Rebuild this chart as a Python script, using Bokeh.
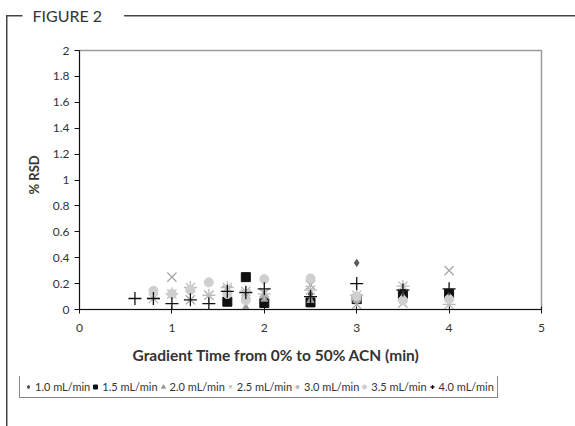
from bokeh.plotting import figure
from bokeh.models import Legend, LegendItem, FixedTicker, Range1d, Title, Label
from bokeh.embed import file_html
from bokeh.resources import INLINE

# %RSD versus gradient time, one series per flow rate
flow_labels = ["1.0 mL/min", "1.5 mL/min", "2.0 mL/min", "2.5 mL/min",
               "3.0 mL/min", "3.5 mL/min", "4.0 mL/min"]

grad_10 = [1.6, 1.8, 2.0, 2.5, 3.0, 3.5, 4.0]
rsd_10 = [0.10, 0.10, 0.09, 0.12, 0.36, 0.12, 0.13]

grad_15 = [1.6, 1.8, 2.0, 2.5, 3.0, 3.5, 4.0]
rsd_15 = [0.06, 0.25, 0.05, 0.055, 0.08, 0.12, 0.12]

grad_20 = [1.8, 2.0, 2.5, 3.0, 3.5, 4.0]
rsd_20 = [0.015, 0.08, 0.07, 0.07, 0.10, 0.10]

grad_25 = [1.0, 1.2, 1.4, 1.6, 1.8, 2.0, 2.5, 3.0, 3.5, 4.0]
rsd_25 = [0.25, 0.075, 0.11, 0.15, 0.12, 0.13, 0.19, 0.04, 0.05, 0.30]

grad_30 = [0.8, 1.0, 1.2, 1.4, 1.6, 1.8, 2.0, 2.5, 3.0, 3.5, 4.0]
rsd_30 = [0.085, 0.12, 0.17, 0.11, 0.17, 0.14, 0.12, 0.15, 0.11, 0.18, 0.04]

grad_35 = [0.8, 1.0, 1.2, 1.4, 1.6, 1.8, 2.0, 2.5, 3.0, 3.5, 4.0]
rsd_35 = [0.145, 0.12, 0.15, 0.21, 0.12, 0.07, 0.235, 0.24, 0.10, 0.07, 0.08]

grad_40 = [0.6, 0.8, 1.0, 1.2, 1.4, 1.6, 1.8, 2.0, 2.5, 3.0, 3.5, 4.0]
rsd_40 = [0.085, 0.085, 0.045, 0.075, 0.045, 0.14, 0.13, 0.16, 0.10, 0.20, 0.15, 0.16]

x_ticks = [0, 1, 2, 3, 4, 5]
y_ticks = [0, 0.2, 0.4, 0.6, 0.8, 1, 1.2, 1.4, 1.6, 1.8, 2]
y_tick_labels = ["0", "0.2", "0.4", "0.6", "0.8", "1", "1.2", "1.4", "1.6", "1.8", "2"]

W = 575
H_HEAD, H_MAIN, H_KEY = 30, 346, 50
FL, FT, FR, FB = 79, 20, 541, 279   # chart frame edges within its own canvas
FONT = "Lato"
INK = "#333333"
RULE = "#444444"
RULE_GRAD = f"linear-gradient({RULE},{RULE})"
LEFT_RULE = {
    "background-color": "white",
    "background-image": RULE_GRAD,
    "background-size": "1.5px 1000px",
    "background-position": "6px 0px",
    "background-repeat": "no-repeat",
}


def strip(height):
    """A blank canvas with no axes, used for the header and the legend row."""
    s = figure(width=W, height=height, output_backend="svg", toolbar_location=None,
               x_axis_type=None, y_axis_type=None, x_range=Range1d(10, 11),
               y_range=Range1d(10, 11), min_border=0)
    s.title.visible = False
    s.background_fill_alpha = 0
    s.border_fill_alpha = 0
    s.outline_line_color = None
    s.xgrid.visible = False
    s.ygrid.visible = False
    return s


# header: "FIGURE 2" set into a rule that runs along the top and down the left
head = strip(H_HEAD)
head.styles = {
    "background-color": "white",
    "background-image": f"{RULE_GRAD}, {RULE_GRAD}",
    "background-size": "1.5px 100px, 580px 1.5px",
    "background-position": "6px 15px, 6px 15px",
    "background-repeat": "no-repeat",
}
head.add_layout(Label(x=22, y=H_HEAD - 15, x_units="screen", y_units="screen",
                      text="FIGURE 2", text_align="left", text_baseline="middle",
                      text_font=FONT, text_font_size="16px", text_color=INK,
                      background_fill_color="white",
                      padding=dict(left=10, right=22, top=2, bottom=2)))

p = figure(width=W, height=H_MAIN, output_backend="svg", toolbar_location=None,
           x_range=Range1d(0, 5), y_range=Range1d(0, 2),
           min_border_left=FL, min_border_top=FT,
           min_border_right=W - FR, min_border_bottom=H_MAIN - FB)
p.title.visible = False
p.background_fill_color = "white"
p.border_fill_alpha = 0
p.outline_line_color = "#9a9a9a"
p.outline_line_width = 1.5
p.xgrid.visible = False
p.ygrid.visible = False
p.styles = LEFT_RULE

for ax in (p.xaxis[0], p.yaxis[0]):
    ax.axis_line_color = "#111111"
    ax.axis_line_width = 1
    ax.major_tick_line_color = "#111111"
    ax.minor_tick_line_color = None
    ax.major_label_text_font = FONT
    ax.major_label_text_font_size = "12px"
    ax.major_label_text_color = INK

p.xaxis.ticker = FixedTicker(ticks=x_ticks)
p.xaxis.major_tick_in = 3
p.xaxis.major_tick_out = 4
p.xaxis.major_label_standoff = 10

p.yaxis.ticker = FixedTicker(ticks=y_ticks)
p.yaxis.major_label_overrides = {t: s for t, s in zip(y_ticks, y_tick_labels)}
p.yaxis.major_tick_in = 0
p.yaxis.major_tick_out = 5
p.yaxis.major_label_standoff = 5

# y-axis title, sitting a little above the middle of the axis
p.add_layout(Title(text="% RSD", align="left", offset=115, text_font=FONT,
                   text_font_style="bold", text_font_size="13px",
                   text_color=INK, standoff=15), "left")

# x-axis title
p.add_layout(Title(text="Gradient Time from 0% to 50% ACN (min)", align="left",
                   offset=53, text_font=FONT, text_font_style="bold",
                   text_font_size="15.5px", text_color=INK, standoff=19), "below")

series = [
    (grad_10, rsd_10, "diamond", 7, "#5a5a5a", "#5a5a5a", 1),
    (grad_15, rsd_15, "square", 9, "#111111", "#111111", 1),
    (grad_20, rsd_20, "triangle", 7, "#9a9a9a", "#9a9a9a", 1),
    (grad_25, rsd_25, "x", 13, None, "#a8a8a8", 1.3),
    (grad_30, rsd_30, "asterisk", 13, None, "#bcbcbc", 1.3),
    (grad_35, rsd_35, "circle", 9, "#cfcfcf", "#cfcfcf", 1),
    (grad_40, rsd_40, "cross", 13, None, "#111111", 1.3),
]

# legend row; its ranges sit away from the data so the series only supply
# the legend swatches
key = strip(H_KEY)
key.styles = LEFT_RULE

items = []
for (xs, ys, marker, size, fill, line, lw), name in zip(series, flow_labels):
    p.scatter(xs, ys, marker=marker, size=size, fill_color=fill,
              line_color=line, line_width=lw)
    swatch = key.scatter(xs, ys, marker=marker, fill_color=fill,
                         line_color=line, line_width=lw)
    items.append(LegendItem(label=name, renderers=[swatch]))

legend = Legend(items=items, orientation="horizontal", location=(19, 28),
                label_text_font=FONT, label_text_font_size="11px",
                label_text_color=INK, glyph_width=10, glyph_height=15,
                label_standoff=2, spacing=0, padding=3, margin=0,
                border_line_color="#111111", border_line_width=1,
                background_fill_color="white", background_fill_alpha=1)
key.add_layout(legend, "center")

open("out.html", "w").write(file_html([head, p, key], INLINE))
